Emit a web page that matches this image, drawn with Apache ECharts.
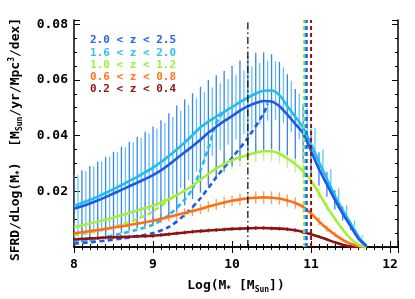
<!DOCTYPE html>
<html><head><meta charset="utf-8">
<script src="https://cdn.jsdelivr.net/npm/echarts@6/dist/echarts.min.js"></script>
<style>html,body{margin:0;padding:0;background:#fff}#c{width:415px;height:299px}</style>
</head><body><div id="c"></div>
<script>
// ---- data ----
const massGrid = [8.0,8.1,8.2,8.3,8.4,8.5,8.6,8.7,8.8,8.9,9.0,9.1,9.2,9.3,9.4,9.5,9.6,9.7,9.8,9.9,10.0,10.1,10.2,10.3,10.4,10.5,10.6,10.7,10.8,10.9,11.0,11.1,11.2,11.3,11.4,11.5,11.6,11.7];
const sfrdZ20 = [.0137,.0146,.0156,.0167,.0179,.0192,.0205,.0218,.0231,.0244,.0258,.0275,.0295,.0318,.0340,.0362,.0385,.0410,.0432,.0452,.0470,.0490,.0505,.0517,.0524,.0522,.0505,.0475,.0442,.0408,.0345,.0280,.0225,.0170,.0120,.0075,.0030,.0003];
const errZ20  = [.0125,.0130,.0135,.0140,.0145,.0150,.0155,.0160,.0165,.0170,.0175,.0180,.0185,.0190,.0190,.0190,.0190,.0190,.0185,.0180,.0180,.0180,.0180,.0180,.0175,.0170,.0160,.0145,.0125,.0105,.0080,.0060,.0045,.0035,.0025,.0015,.0005,0];
const sfrdZ16 = [.0148,.0158,.0169,.0181,.0194,.0208,.0222,.0237,.0252,.0268,.0285,.0305,.0327,.0350,.0375,.0402,.0430,.0450,.0468,.0485,.0502,.0520,.0536,.0551,.0561,.0562,.0545,.0505,.0468,.0428,.0370,.0305,.0245,.0185,.0132,.0085,.0038,.0005];
const errZ16  = [.0110,.0115,.0120,.0125,.0130,.0133,.0136,.0138,.0140,.0140,.0140,.0140,.0140,.0138,.0135,.0132,.0128,.0124,.0120,.0118,.0116,.0114,.0112,.0110,.0108,.0105,.0100,.0092,.0082,.0070,.0058,.0045,.0035,.0025,.0018,.0010,.0004,0];
const sfrdZ10 = [.0072,.0078,.0084,.0091,.0098,.0106,.0114,.0122,.0131,.0140,.0148,.0160,.0172,.0186,.0202,.0220,.0242,.0262,.0282,.0298,.0312,.0322,.0330,.0338,.0344,.0344,.0335,.0318,.0298,.0272,.0238,.0192,.0145,.0102,.0063,.0030,.0008,0];
const errZ10  = [.0015,.0015,.0016,.0017,.0018,.0018,.0019,.0020,.0020,.0021,.0022,.0023,.0024,.0025,.0026,.0027,.0028,.0029,.0030,.0031,.0032,.0033,.0033,.0034,.0035,.0035,.0034,.0033,.0031,.0029,.0025,.0020,.0015,.0010,.0006,.0003,0,0];
const sfrdZ06 = [.0049,.0053,.0057,.0061,.0065,.0070,.0074,.0079,.0084,.0089,.0094,.0101,.0108,.0115,.0122,.0129,.0136,.0145,.0153,.0160,.0166,.0171,.0175,.0177,.0178,.0177,.0174,.0167,.0158,.0144,.0120,.0092,.0066,.0045,.0026,.0012,.0003,0];
const errZ06  = [.0010,.0011,.0011,.0012,.0012,.0013,.0013,.0014,.0014,.0015,.0015,.0016,.0016,.0017,.0017,.0018,.0018,.0019,.0019,.0020,.0020,.0021,.0021,.0022,.0022,.0023,.0022,.0022,.0021,.0020,.0017,.0014,.0011,.0008,.0005,.0002,0,0];
const sfrdZ02 = [.0027,.0029,.0031,.0032,.0034,.0035,.0036,.0037,.0038,.0039,.0040,.0043,.0046,.0049,.0052,.0055,.0057,.0059,.0061,.0063,.0065,.0066,.0067,.0068,.0068,.0067,.0066,.0064,.0060,.0054,.0046,.0037,.0027,.0017,.0008,.0002,0,0];
const errZ02  = [.0007,.0007,.0007,.0007,.0007,.0007,.0007,.0007,.0007,.0007,.0007,.0007,.0007,.0007,.0007,.0007,.0007,.0007,.0007,.0007,.0007,.0007,.0007,.0007,.0007,.0007,.0007,.0007,.0007,.0007,.0006,.0005,.0004,.0003,.0002,0,0,0];
// dashed (incomplete) curves
const dashMassZ20 = [8.0,8.2,8.4,8.6,8.8,9.0,9.2,9.4,9.6,9.8,10.0,10.2,10.4,10.45];
const dashSfrdZ20 = [.0012,.0017,.0023,.0030,.0039,.0050,.0072,.0115,.0175,.0250,.0320,.0392,.0480,.0515];
const dashMassZ16 = [8.0,8.2,8.4,8.6,8.8,9.0,9.2,9.4,9.5,9.6,9.7,9.8,9.9];
const dashSfrdZ16 = [.0018,.0026,.0036,.0048,.0062,.0080,.0115,.0170,.0210,.0275,.0355,.0445,.0488];
const dashMassZ10 = [8.0,8.2,8.4,8.6,8.8,9.0,9.2,9.3];
const dashSfrdZ10 = [.0042,.0052,.0064,.0080,.0100,.0128,.0168,.0186];
// vertical markers
const dashDotMass = 10.2;
const limitMass = {z10: 10.91, z16: 10.93, z20: 10.945, z02: 11.0};
const legendLabels = ['2.0 < z < 2.5','1.6 < z < 2.0','1.0 < z < 1.2','0.6 < z < 0.8','0.2 < z < 0.4'];
const xTicks = [8,9,10,11,12];
const yTicks = [0.02,0.04,0.06,0.08];

// ---- styles ----
const C = {
  z20:{line:'#1c5ae8', bar:'#3f80f2', text:'#2266ee'},
  z16:{line:'#1dbdf0', bar:'#5cc6f5', text:'#30c2f0'},
  z10:{line:'#a6ee3a', bar:'#c3f088', text:'#a4ec3c'},
  z06:{line:'#ff6e12', bar:'#ff9a5a', text:'#ff7420'},
  z02:{line:'#8e1212', bar:'#a23c3c', text:'#8e1414'}
};
const FONT = 'DejaVu Sans Mono';

function errSeries(vals, errs, color, offset, z){
  const data = massGrid.map((m,i)=>[m+offset, vals[i], errs[i]]).filter(d=>d[2]>0);
  return {type:'custom', z:z, silent:true, clip:true, data:data,
    encode:{x:0,y:1},
    renderItem:function(params, api){
      const x=api.value(0), y=api.value(1), e=api.value(2);
      const p1=api.coord([x,y-e]), p2=api.coord([x,y+e]);
      return {type:'line', shape:{x1:p1[0],y1:p1[1],x2:p2[0],y2:p2[1]}, style:{stroke:color, lineWidth:1.3}};
    }};
}
function lineSeries(xs, ys, color, dashed, z){
  return {type:'line', z:z, silent:true, showSymbol:false, smooth:0.3,
    data: xs.map((m,i)=>[m, ys[i]]),
    lineStyle:{color:color, width:2.6, type: dashed ? [5,3.5] : 'solid'}};
}
function vline(x, color, type){
  return {type:'line', z:6, silent:true, showSymbol:false, data:[[x,0],[x,0.0815]],
    lineStyle:{color:color, width: type==='dd'?1.2:2, type: type==='dd' ? [7,3,1.5,3] : [4,3]}};
}

const series = [
  errSeries(sfrdZ02, errZ02, C.z02.bar, 0, 1),
  errSeries(sfrdZ06, errZ06, C.z06.bar, 0, 1),
  errSeries(sfrdZ10, errZ10, C.z10.bar, 0, 1),
  errSeries(sfrdZ16, errZ16, C.z16.bar, 0.05, 2),
  errSeries(sfrdZ20, errZ20, C.z20.bar, 0, 2),
  lineSeries(dashMassZ10, dashSfrdZ10, C.z10.line, true, 4),
  lineSeries(dashMassZ16, dashSfrdZ16, C.z16.line, true, 4),
  lineSeries(dashMassZ20, dashSfrdZ20, C.z20.line, true, 4),
  lineSeries(massGrid, sfrdZ02, C.z02.line, false, 5),
  lineSeries(massGrid, sfrdZ06, C.z06.line, false, 5),
  lineSeries(massGrid, sfrdZ10, C.z10.line, false, 5),
  lineSeries(massGrid, sfrdZ16, C.z16.line, false, 5),
  lineSeries(massGrid, sfrdZ20, C.z20.line, false, 5),
  vline(dashDotMass, '#000', 'dd'),
  vline(limitMass.z10, C.z10.line, 'd'),
  vline(limitMass.z16, C.z16.line, 'd'),
  vline(limitMass.z20, C.z20.line, 'd'),
  vline(limitMass.z02, C.z02.line, 'd')
];

const isTick = (v, arr) => arr.some(t => Math.abs(t - v) < 1e-9);
const axisCommon = {
  axisLine:{show:true, lineStyle:{color:'#000', width:1.5}},
  axisTick:{show:true, inside:true, length:6, lineStyle:{color:'#000', width:1}},
  splitLine:{show:false}
};
const rich = {
  t:{fontFamily:FONT, fontWeight:'bold', fontSize:13, color:'#000', lineHeight:16},
  s:{fontFamily:FONT, fontWeight:'bold', fontSize:8, color:'#000', verticalAlign:'bottom', lineHeight:16},
  p:{fontFamily:FONT, fontWeight:'bold', fontSize:8, color:'#000', verticalAlign:'top', lineHeight:16}
};

const option = {
  animation:false,
  backgroundColor:'#fff',
  grid:{left:71, right:17, top:20, bottom:48, containLabel:false},
  xAxis:[
    Object.assign({type:'value', min:8, max:12.1, interval:1, position:'bottom',
      axisLabel:{margin:11, fontFamily:FONT, fontWeight:'bold', fontSize:13, color:'#000',
        formatter:v => isTick(v, xTicks) ? String(v) : ''},
      name:'{t|Log(M}{s|*}{t| [M}{s|Sun}{t|])}', nameLocation:'middle', nameGap:31,
      nameTextStyle:{rich:rich}}, axisCommon,
      {minorTick:{show:true, splitNumber:10, length:3, lineStyle:{color:'#000'}}}),
    Object.assign({type:'value', min:8, max:12.1, interval:1, position:'top',
      axisLabel:{show:false}}, axisCommon,
      {minorTick:{show:true, splitNumber:10, length:3, lineStyle:{color:'#000'}}})
  ],
  yAxis:[
    Object.assign({type:'value', min:0, max:0.0815, interval:0.02, position:'left',
      axisLabel:{margin:6, fontFamily:FONT, fontWeight:'bold', fontSize:13, color:'#000',
        formatter:v => isTick(v, yTicks) ? v.toFixed(2) : ''},
      name:'{t|SFRD/dLog(M}{s|*}{t|)  [M}{s|Sun}{t|/yr/Mpc}{p|3}{t|/dex]}',
      nameLocation:'middle', nameRotate:90, nameGap:50,
      nameTextStyle:{rich:rich, padding:[0,12,0,0]}}, axisCommon,
      {minorTick:{show:true, splitNumber:4, length:3, lineStyle:{color:'#000'}}}),
    Object.assign({type:'value', min:0, max:0.0815, interval:0.02, position:'right',
      axisLabel:{show:false}}, axisCommon,
      {minorTick:{show:true, splitNumber:4, length:3, lineStyle:{color:'#000'}}})
  ],
  graphic: legendLabels.map((txt,i)=>({
    type:'text', left:90, top:35 + i*12.2, silent:true,
    style:{text:txt, fill:[C.z20.text,C.z16.text,C.z10.text,C.z06.text,C.z02.text][i],
      font:'bold 11px "'+FONT+'"'}
  })),
  series: series
};
const chart = echarts.init(document.getElementById('c'), null, {renderer:'canvas'});
chart.setOption(option);
</script></body></html>
